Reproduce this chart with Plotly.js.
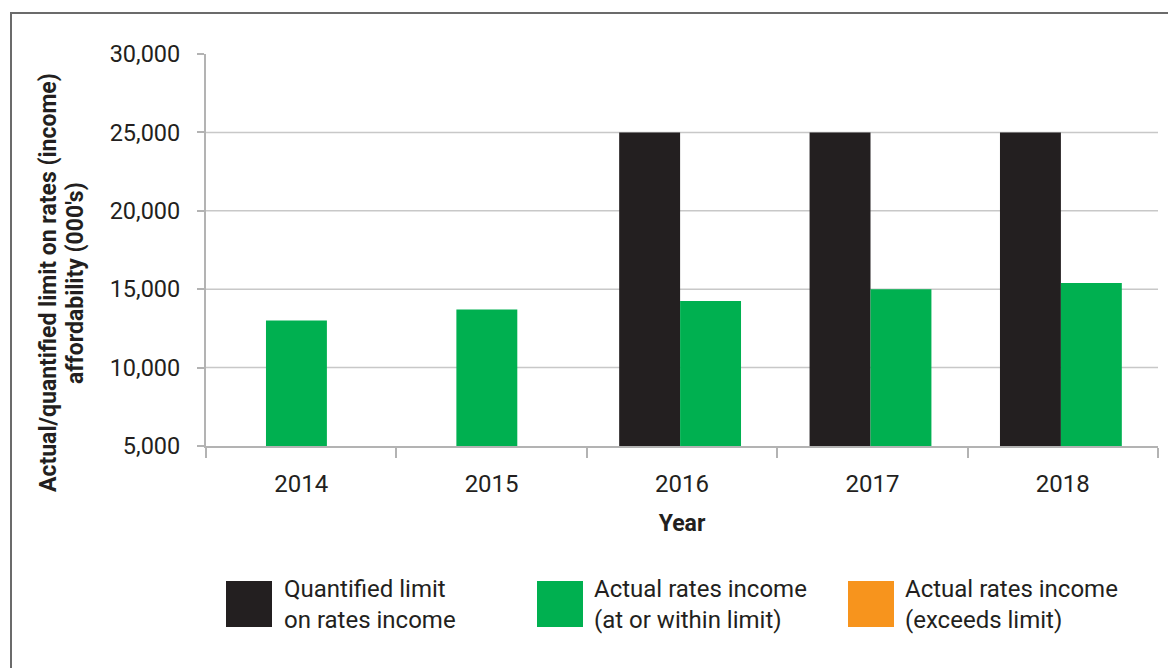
<!DOCTYPE html>
<html><head><meta charset="utf-8">
<script src="https://cdn.plot.ly/plotly-3.0.1.min.js"></script>
<style>
html,body{margin:0;padding:0;background:#fff;overflow:hidden;}
#chart{position:absolute;left:0;top:0;width:1168px;height:668px;}
#frame{position:absolute;left:10px;top:12px;right:0;bottom:0;border-top:2px solid #6b6b6b;border-left:2px solid #6b6b6b;pointer-events:none;}
</style></head><body>
<div id="chart"></div><div id="frame"></div>
<script>
// ---- data ----
const years = ['2014', '2015', '2016', '2017', '2018'];
const quantifiedLimit = [null, null, 25000, 25000, 25000];
const actualWithinLimit = [13000, 13700, 14250, 15000, 15400];
const actualExceedsLimit = [null, null, null, null, null];
const seriesNames = ['Quantified limit<br>on rates income', 'Actual rates income<br>(at or within limit)', 'Actual rates income<br>(exceeds limit)'];
const yTickValues = [5000, 10000, 15000, 20000, 25000, 30000];
const yTitleLines = ['Actual/quantified limit on rates (income)', "affordability (000's)"];
const xTitle = 'Year';

// ---- style ----
const COLORS = ['#231f20', '#00b050', '#f7941d'];
const TXT = '#231f20';
const AX = '#b3b3b3';
const FONT = 'Roboto, "Open Sans", sans-serif';
const M = {l: 206, r: 10, t: 54, b: 222};
const W = 1168 - M.l - M.r, H = 668 - M.t - M.b;
const px = x => (x - M.l) / W;
const py = y => (668 - M.b - y) / H;
const BW = 0.32;

const limitOffsets = quantifiedLimit.map(() => -0.33);
const greenOffsets = quantifiedLimit.map(v => v == null ? -0.185 : -0.01);

const traces = [
  {type: 'bar', name: seriesNames[0], x: years, y: quantifiedLimit, width: BW, offset: limitOffsets,
   marker: {color: COLORS[0]}, showlegend: false, hoverinfo: 'x+y'},
  {type: 'bar', name: seriesNames[1], x: years, y: actualWithinLimit, width: BW, offset: greenOffsets,
   marker: {color: COLORS[1]}, showlegend: false, hoverinfo: 'x+y'},
  {type: 'bar', name: seriesNames[2], x: years, y: actualExceedsLimit, width: BW, offset: greenOffsets,
   marker: {color: COLORS[2]}, showlegend: false, hoverinfo: 'x+y'}
];

const shapes = yTickValues.slice(1, -1).map(v => ({
  type: 'line', xref: 'paper', x0: 0, x1: 1, yref: 'y', y0: v, y1: v,
  line: {color: '#c8c8c8', width: 1.5}, layer: 'below'
}));

const titleX = [48, 75];
const annotations = yTitleLines.map((t, i) => ({
  xref: 'paper', yref: 'paper', x: px(titleX[i]), y: py(283), xanchor: 'center', yanchor: 'middle',
  textangle: -90, showarrow: false, text: t, align: 'center',
  font: {family: FONT, size: 23, color: TXT, weight: 'bold'}
}));

const swatchX = [226, 537, 848];
const textX = [282, 592, 903];
seriesNames.forEach((name, i) => {
  shapes.push({type: 'rect', xref: 'paper', yref: 'paper',
    x0: px(swatchX[i]), x1: px(swatchX[i] + 46), y0: py(627), y1: py(581),
    fillcolor: COLORS[i], line: {width: 0}});
  annotations.push({xref: 'paper', yref: 'paper', x: px(textX[i]), y: py(604),
    xanchor: 'left', yanchor: 'middle', showarrow: false, align: 'left', text: name,
    font: {family: FONT, size: 24, color: TXT}});
});

const layout = {
  width: 1168, height: 668, margin: M,
  paper_bgcolor: '#fff', plot_bgcolor: '#fff',
  barmode: 'overlay', showlegend: false,
  font: {family: FONT, color: TXT},
  xaxis: {
    type: 'category', range: [-0.5, 4.5], showline: true, linecolor: AX, linewidth: 2,
    ticks: 'outside', tickson: 'boundaries', ticklen: 10, tickwidth: 2, tickcolor: AX,
    showgrid: false, zeroline: false, automargin: false,
    tickfont: {family: FONT, size: 24, color: TXT}, ticklabelstandoff: 15,
    title: {text: xTitle, standoff: 18, font: {family: FONT, size: 23, color: TXT, weight: 'bold'}}
  },
  yaxis: {
    range: [5000, 30000], tickvals: yTickValues, tickformat: ',d', showline: true,
    linecolor: AX, linewidth: 2, ticks: 'outside', ticklen: 7, tickwidth: 2, tickcolor: AX,
    showgrid: false, zeroline: false, automargin: false,
    tickfont: {family: FONT, size: 23.5, color: TXT}, ticklabelstandoff: 12
  },
  shapes: shapes,
  annotations: annotations
};

Plotly.newPlot('chart', traces, layout, {displayModeBar: false, staticPlot: true});
</script>
</body></html>
